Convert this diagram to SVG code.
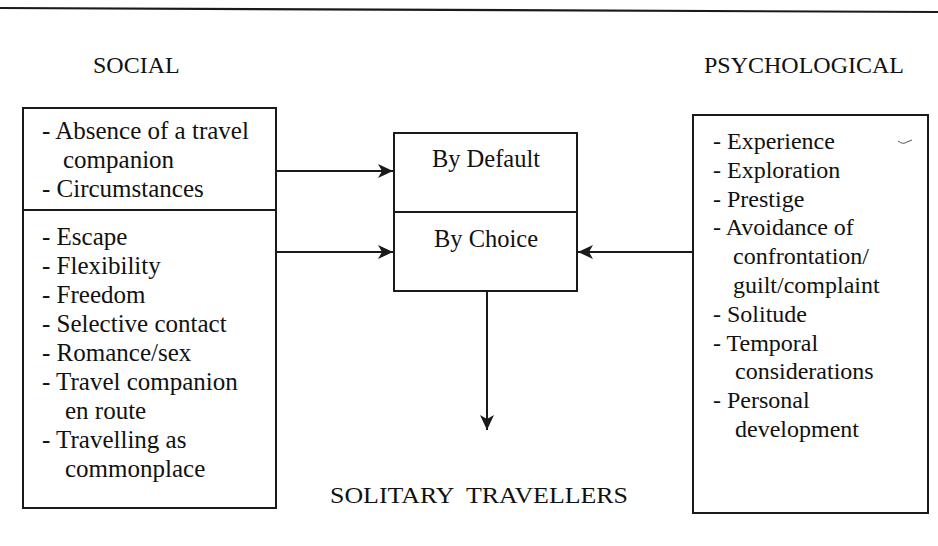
<svg xmlns="http://www.w3.org/2000/svg" width="938" height="546" viewBox="0 0 938 546">
  <style>
    .bg { fill: #ffffff; }
    .rule { stroke: #1a1a1a; stroke-width: 2.2; fill: none; }
    .box { fill: none; stroke: #1a1a1a; stroke-width: 2; }
    .div { stroke: #1a1a1a; stroke-width: 2; }
    .t { font-family: "Liberation Serif", "Times New Roman", serif; font-size: 24.5px; fill: #111111; }
    .l { font-size: 25px; }
    .r { font-size: 24px; }
    .c { text-anchor: middle; }
    .head { font-family: "Liberation Serif", "Times New Roman", serif; font-size: 24px; fill: #111111; }
    .conn { stroke: #1a1a1a; stroke-width: 2; fill: none; }
  </style>
  <defs>
    <marker id="arrow" markerUnits="userSpaceOnUse" markerWidth="16" markerHeight="16" viewBox="0 0 16 16" refX="15" refY="8" orient="auto">
      <path d="M0,1 L15,8 L0,15 L4,8 Z" fill="#1a1a1a"/>
    </marker>
  </defs>

  <rect class="bg" x="0" y="0" width="938" height="546"/>

  <!-- top rule -->
  <line class="rule" x1="0" y1="8" x2="938" y2="12"/>

  <!-- column headings -->
  <g id="heading-social">
    <text class="head" x="93" y="73" font-size="25">SOCIAL</text>
  </g>
  <g id="heading-psychological">
    <text class="head" x="904" y="73" text-anchor="end">PSYCHOLOGICAL</text>
  </g>

  <!-- social factors -->
  <g id="social">
    <rect class="box" x="23" y="108" width="253" height="400"/>
    <line class="div" x1="23" y1="210" x2="276" y2="210"/>
    <text class="t l" x="42" y="139">- Absence of a travel</text>
    <text class="t l" x="63" y="168">companion</text>
    <text class="t l" x="42" y="197">- Circumstances</text>
    <text class="t l" x="42" y="245">- Escape</text>
    <text class="t l" x="42" y="274">- Flexibility</text>
    <text class="t l" x="42" y="303">- Freedom</text>
    <text class="t l" x="42" y="332">- Selective contact</text>
    <text class="t l" x="42" y="361">- Romance/sex</text>
    <text class="t l" x="42" y="390">- Travel companion</text>
    <text class="t l" x="65" y="419">en route</text>
    <text class="t l" x="42" y="448">- Travelling as</text>
    <text class="t l" x="65" y="477">commonplace</text>
  </g>

  <!-- mode of travel -->
  <g id="mode">
    <rect class="box" x="394" y="133" width="183" height="158"/>
    <line class="div" x1="394" y1="212" x2="577" y2="212"/>
    <text class="t c" x="486" y="167">By Default</text>
    <text class="t c" x="486" y="247">By Choice</text>
  </g>

  <!-- psychological factors -->
  <g id="psychological">
    <rect class="box" x="693" y="115" width="235" height="398"/>
    <path d="M898,141 Q903,145 907,142 L912,140" fill="none" stroke="#555" stroke-width="1"/>
    <text class="t r" x="713" y="149">- Experience</text>
    <text class="t r" x="713" y="178">- Exploration</text>
    <text class="t r" x="713" y="207">- Prestige</text>
    <text class="t r" x="713" y="235">- Avoidance of</text>
    <text class="t r" x="733" y="264">confrontation/</text>
    <text class="t r" x="733" y="293">guilt/complaint</text>
    <text class="t r" x="713" y="322">- Solitude</text>
    <text class="t r" x="713" y="351">- Temporal</text>
    <text class="t r" x="735" y="379">considerations</text>
    <text class="t r" x="713" y="408">- Personal</text>
    <text class="t r" x="735" y="437">development</text>
  </g>

  <!-- outcome -->
  <g id="outcome">
    <text class="head" x="330" y="503" font-size="25" textLength="298" lengthAdjust="spacingAndGlyphs" xml:space="preserve" style="white-space:pre">SOLITARY  TRAVELLERS</text>
  </g>

  <!-- connectors -->
  <g id="connectors">
    <line class="conn" x1="276" y1="171" x2="393" y2="171" marker-end="url(#arrow)"/>
    <line class="conn" x1="276" y1="252" x2="393" y2="252" marker-end="url(#arrow)"/>
    <line class="conn" x1="693" y1="252" x2="578" y2="252" marker-end="url(#arrow)"/>
    <line class="conn" x1="487" y1="291" x2="487" y2="430" marker-end="url(#arrow)"/>
  </g>
</svg>
